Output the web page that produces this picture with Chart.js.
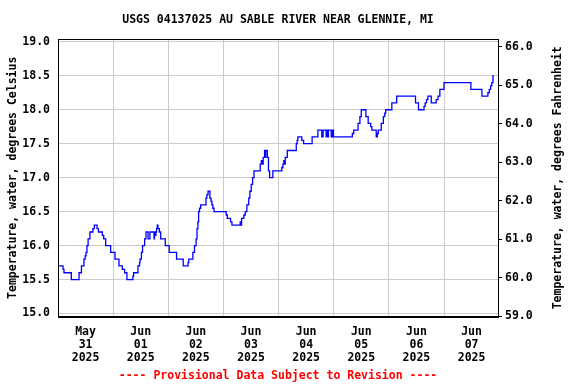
<!DOCTYPE html>
<html><head><meta charset="utf-8">
<script src="https://cdn.jsdelivr.net/npm/chart.js@4/dist/chart.umd.min.js"></script>
<style>html,body{margin:0;padding:0;background:#fff}</style>
</head><body>
<canvas id="c" width="576" height="384"></canvas>
<script>
const titleText = 'USGS 04137025 AU SABLE RIVER NEAR GLENNIE, MI';
const leftAxisTitle = 'Temperature, water, degrees Celsius';
const rightAxisTitle = 'Temperature, water, degrees Fahrenheit';
const footerText = '---- Provisional Data Subject to Revision ----';

// hours since 2025-05-31 00:00 at which each value starts
const hours = [0,2.2,2.6,5.8,9.15,10.2,11.3,11.8,12.2,12.6,13.1,13.9,15.2,15.8,17.0,17.6,19.3,19.9,20.75,22.9,
  24.8,26.55,28.0,29.0,30.0,32.6,32.9,34.8,35.5,35.7,36.3,36.8,37.7,38.3,39.2,40.0,41.8,42.0,42.3,42.6,42.9,43.2,43.5,44.1,44.7,46.7,
  48.4,51.6,54.5,56.6,56.9,58.7,59.4,60.1,60.5,60.9,61.2,61.6,62.1,64.4,64.8,65.3,66.1,66.6,67.0,67.4,67.9,
  73.2,73.7,75.1,75.7,79.3,79.6,79.9,80.9,81.5,82.2,83.0,83.5,84.1,84.7,85.3,88.0,88.5,88.8,89.3,89.9,90.2,90.4,91.1,91.6,92.1,93.5,
  97.4,97.9,98.3,98.6,98.9,99.8,103.7,104.1,104.4,106.1,106.9,110.6,113.1,114.8,115.4,116.7,117.0,117.5,117.7,118.9,119.5,119.9,
  128.1,128.7,130.6,131.4,132.0,134.0,135.0,136.1,136.6,138.5,139.0,139.4,140.7,141.6,142.2,142.6,145.3,147.4,
  155.6,156.9,159.3,159.8,160.4,161.0,162.45,164.6,165.4,166.2,168.0,179.7,184.5,187.1,187.7,188.3,188.8,189.3,189.7];
const tempC = [15.7,15.65,15.6,15.5,15.6,15.7,15.8,15.85,15.9,16.0,16.1,16.2,16.25,16.3,16.25,16.2,16.15,16.1,16.0,15.9,
  15.8,15.7,15.65,15.6,15.5,15.55,15.6,15.7,15.75,15.8,15.9,16.0,16.1,16.2,16.1,16.2,16.1,16.2,16.15,16.2,16.25,16.3,16.25,16.2,16.1,16.0,
  15.9,15.8,15.7,15.75,15.8,15.9,16.0,16.1,16.25,16.35,16.5,16.55,16.6,16.7,16.75,16.8,16.7,16.65,16.6,16.55,16.5,
  16.45,16.4,16.35,16.3,16.35,16.3,16.4,16.45,16.5,16.6,16.7,16.8,16.9,17.0,17.1,17.2,17.25,17.2,17.3,17.4,17.3,17.4,17.3,17.1,17.0,17.1,
  17.15,17.2,17.25,17.2,17.3,17.4,17.5,17.55,17.6,17.55,17.5,17.6,17.7,17.6,17.7,17.6,17.7,17.6,17.7,17.6,17.7,17.6,
  17.65,17.7,17.8,17.9,18.0,17.9,17.8,17.75,17.7,17.6,17.65,17.7,17.8,17.9,17.95,18.0,18.1,18.2,
  18.1,18.0,18.05,18.1,18.15,18.2,18.1,18.15,18.2,18.3,18.4,18.3,18.2,18.25,18.3,18.35,18.4,18.5,18.5];

const dayLabels = [['May','31','2025'],['Jun','01','2025'],['Jun','02','2025'],['Jun','03','2025'],
  ['Jun','04','2025'],['Jun','05','2025'],['Jun','06','2025'],['Jun','07','2025']];
const xTickHours = [12,24,36,48,60,72,84,96,108,120,132,144,156,168,180];
const celsiusTicks = [15.0,15.5,16.0,16.5,17.0,17.5,18.0,18.5,19.0];
const fahrenheitTicks = [59,60,61,62,63,64,65,66];

const FAM = "'DejaVu Sans Mono', monospace";
const F = {family: FAM, size: 11.5, weight: 'bold', lineHeight: 1.2};
const FX = {family: FAM, size: 11.5, weight: 'bold', lineHeight: 1.15};

const framePlugin = {
  id: 'frame',
  afterDraw(chart) {
    const {ctx, chartArea: a} = chart;
    ctx.save();
    ctx.strokeStyle = '#000';
    ctx.lineWidth = 1;
    ctx.strokeRect(Math.round(a.left) + 0.5, Math.round(a.top) + 0.5,
      Math.round(a.right) - Math.round(a.left), Math.round(a.bottom) - Math.round(a.top));
    ctx.font = 'bold 11.5px ' + FAM;
    ctx.fillStyle = '#000';
    ctx.textAlign = 'center';
    ctx.textBaseline = 'middle';
    ctx.translate(558, (a.top + a.bottom) / 2);
    ctx.rotate(-Math.PI / 2);
    ctx.fillText(rightAxisTitle, 0, 0);
    ctx.restore();
  }
};

new Chart(document.getElementById('c'), {
  type: 'line',
  data: { datasets: [{
    data: hours.map((h, i) => ({x: h, y: tempC[i]})),
    borderColor: '#0000ff', borderWidth: 1.3, pointRadius: 0, stepped: true, fill: false, yAxisID: 'y'
  }]},
  options: {
    responsive: false, animation: false, devicePixelRatio: 1,
    layout: {padding: 0},
    plugins: {
      legend: {display: false}, tooltip: {enabled: false},
      title: {display: true, fullSize: false, text: titleText, color: '#000', font: F, padding: {top: 13.5, bottom: 11.8}},
      subtitle: {display: true, fullSize: false, position: 'bottom', text: footerText, color: '#ff0000', font: F, padding: {top: 4, bottom: 1.5}}
    },
    scales: {
      x: {
        type: 'linear', min: 0, max: 191.5,
        afterBuildTicks: s => { s.ticks = xTickHours.map(v => ({value: v})); },
        afterFit: s => { s.height = 48.2; },
        grid: {color: c => (c.tick && c.tick.value % 24 === 0) ? '#cccccc' : 'rgba(0,0,0,0)', drawTicks: false, lineWidth: 1},
        border: {display: true, color: '#000'},
        ticks: {autoSkip: false, maxRotation: 0, minRotation: 0, padding: 8.5, color: '#000', font: FX,
          callback: v => (v % 24 === 12) ? dayLabels[(v - 12) / 24] : ''}
      },
      y: {
        position: 'left', min: 14.956, max: 19.04,
        afterBuildTicks: s => { s.ticks = celsiusTicks.map(v => ({value: v})); },
        afterFit: s => { s.width = 58; },
        grid: {color: '#cccccc', drawTicks: false, lineWidth: 1},
        border: {display: true, color: '#000'},
        ticks: {padding: 8, color: '#000', font: F, callback: v => v.toFixed(1)},
        title: {display: true, text: leftAxisTitle, color: '#000', font: F, padding: {top: 6, bottom: 0}}
      },
      y2: {
        position: 'right', min: 59.0, max: 66.2,
        afterBuildTicks: s => { s.ticks = fahrenheitTicks.map(v => ({value: v})); },
        afterFit: s => { s.width = 78; },
        grid: {drawOnChartArea: false, drawTicks: true, tickLength: 4, tickColor: '#000', color: '#000'},
        border: {display: true, color: '#000'},
        ticks: {padding: 3, color: '#000', font: F, callback: v => v.toFixed(1)}
      }
    }
  },
  plugins: [framePlugin]
});
</script>
</body></html>
